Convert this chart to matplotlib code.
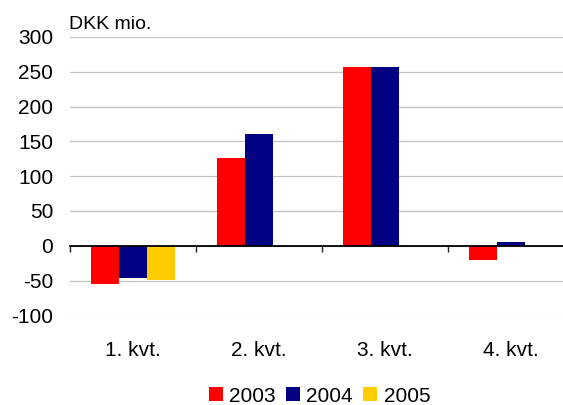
import numpy as np
import matplotlib
matplotlib.use("Agg")
import matplotlib.pyplot as plt
import matplotlib.transforms as mtransforms

plt.rcParams['font.family'] = ['Liberation Sans', 'DejaVu Sans']
plt.rcParams['axes.unicode_minus'] = False

kvartaler = ['1. kvt.', '2. kvt.', '3. kvt.', '4. kvt.']
aar = ['2003', '2004', '2005']
v2003 = [-55, 126, 257, -20]
v2004 = [-46, 160, 257, 5]
v2005 = [-49, 0, 0, 0]
farver = ['#FF0000', '#000080', '#FFCC00']
yticks = [-100, -50, 0, 50, 100, 150, 200, 250, 300]

W, H = 563, 405
FS = 15
fig = plt.figure(figsize=(W / 100, H / 100), dpi=100)
ax = fig.add_axes([70 / W, 1 - 315.3 / H, 504 / W, 278.3 / H])

x = np.arange(len(kvartaler))
bw = 1 / 4.5
for i, (vals, c, lab) in enumerate(zip([v2003, v2004, v2005], farver, aar)):
    ax.bar(x + (i - 1) * bw, vals, width=bw, color=c, label=lab, zorder=2)

ax.set_xlim(-0.5, 3.5)
ax.set_ylim(-100, 300)
ax.set_yticks(yticks)
ax.tick_params(axis='y', length=0, pad=12, labelsize=FS)
ax.yaxis.grid(True, color='#c0c0c0', linewidth=0.9, zorder=0)
ax.set_axisbelow(True)

for s in ['top', 'right', 'left']:
    ax.spines[s].set_visible(False)
ax.spines['bottom'].set_position(('data', 0))
ax.spines['bottom'].set_linewidth(1.3)
ax.spines['bottom'].set_zorder(3)
ax.set_xticks(np.arange(-0.5, 3.6, 1.0))
ax.set_xticklabels([])
ax.tick_params(axis='x', direction='out', length=4, width=1.0, color='#222222')

trans = mtransforms.blended_transform_factory(ax.transData, ax.transAxes)
for xi, lab in zip(x, kvartaler):
    ax.text(xi, -0.125, lab, transform=trans, ha='center', va='center', fontsize=FS)

fig.text(69 / W, 1 - 29 / H, 'DKK mio.', fontsize=14, ha='left', va='baseline')

fig.legend(loc='center', bbox_to_anchor=(319.5 / W, 1 - 396 / H), ncol=3,
           frameon=False, fontsize=FS, handlelength=0.67, handleheight=0.67,
           handletextpad=0.3, columnspacing=0.5, borderaxespad=0, borderpad=0)

fig.savefig('out.png', dpi=100)
